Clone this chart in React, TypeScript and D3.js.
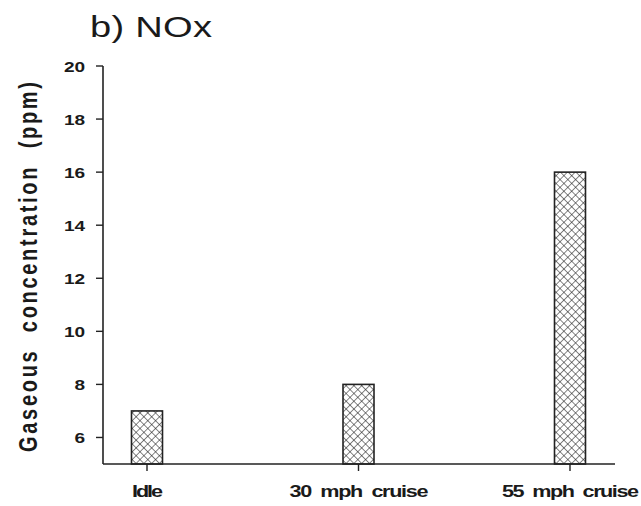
import React from "react";
import * as d3 from "d3";

// Driving conditions and measured NOx concentration (ppm)
const categories = ["Idle", "30  mph  cruise", "55  mph  cruise"];
const noxValues = [7, 8, 16];
const yTicks = [6, 8, 10, 12, 14, 16, 18, 20];

const width = 641;
const height = 506;

// The lettering of this figure is set in a wide face; a horizontal scale widens it.
const STRETCH = 1.27;
const font = "'Liberation Sans', Arial, Helvetica, sans-serif";

type WideTextProps = {
  x: number;
  y: number;
  size: number;
  len: number;
  anchor: "start" | "middle" | "end";
  weight?: string;
  children: React.ReactNode;
};

function WideText({ x, y, size, len, anchor, weight = "normal", children }: WideTextProps) {
  return (
    <text
      transform={`translate(${x},${y}) scale(${STRETCH},1)`}
      textAnchor={anchor}
      fontFamily={font}
      fontSize={size}
      fontWeight={weight}
      fill="#1a1a1a"
      textLength={len / STRETCH}
      lengthAdjust="spacing"
      style={{ whiteSpace: "pre" }}
    >
      {children}
    </text>
  );
}

const xLabelWidths = [31, 139, 137];

export default function App() {
  const x = d3.scalePoint<string>().domain(categories).range([147, 570]);
  const y = d3.scaleLinear().domain([5, 20]).range([464, 66]);
  const barW = 31;
  const axisLeft = 103;
  const axisRight = 615;

  return (
    <svg
      width={width}
      height={height}
      style={{ position: "absolute", left: 0, top: 0, background: "#fff" }}
    >
      <defs>
        <pattern
          id="xhatch"
          patternUnits="userSpaceOnUse"
          width={5.5}
          height={5.5}
          patternTransform="rotate(45)"
        >
          <rect width={5.5} height={5.5} fill="#fff" />
          <line x1={0} y1={0} x2={0} y2={5.5} stroke="#222" strokeWidth={1.1} />
          <line x1={0} y1={0} x2={5.5} y2={0} stroke="#222" strokeWidth={1.1} />
        </pattern>
      </defs>

      <WideText x={90} y={37} size={30} len={122} anchor="start">
        b) NOx
      </WideText>

      <text
        transform={`translate(37,${(y(20) + y(5)) / 2 + 2}) rotate(-90) scale(1,${STRETCH})`}
        textAnchor="middle"
        fontFamily={font}
        fontSize={20}
        fontWeight="bold"
        fill="#1a1a1a"
        textLength={370}
        lengthAdjust="spacing"
        style={{ whiteSpace: "pre" }}
      >
        Gaseous  concentration  (ppm)
      </text>

      {/* bars */}
      {categories.map((c, i) => (
        <rect
          key={c}
          x={(x(c) as number) - barW / 2}
          y={y(noxValues[i])}
          width={barW}
          height={y(5) - y(noxValues[i])}
          fill="url(#xhatch)"
          stroke="#222"
          strokeWidth={1.6}
        />
      ))}

      {/* y axis */}
      <line x1={axisLeft} y1={y(20)} x2={axisLeft} y2={y(5)} stroke="#222" strokeWidth={1.6} />
      {yTicks.map((t) => (
        <g key={t}>
          <line x1={axisLeft - 7} x2={axisLeft} y1={y(t)} y2={y(t)} stroke="#222" strokeWidth={1.4} />
          <WideText x={85} y={y(t) + 6} size={15} len={String(t).length * 10.5} anchor="end" weight="bold">
            {t}
          </WideText>
        </g>
      ))}

      {/* x axis */}
      <line x1={axisLeft} y1={y(5)} x2={axisRight} y2={y(5)} stroke="#222" strokeWidth={1.6} />
      {categories.map((c, i) => (
        <g key={c}>
          <line x1={x(c)} x2={x(c)} y1={y(5)} y2={y(5) + 7} stroke="#222" strokeWidth={1.4} />
          <WideText x={(x(c) as number) + 0.5} y={497} size={17} len={xLabelWidths[i]} anchor="middle" weight="bold">
            {c}
          </WideText>
        </g>
      ))}
    </svg>
  );
}
